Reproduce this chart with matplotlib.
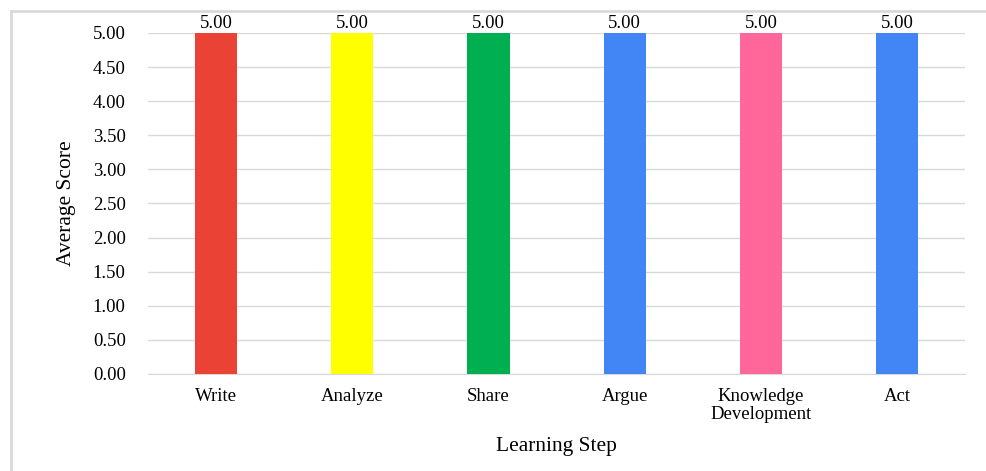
import matplotlib.pyplot as plt
from matplotlib.lines import Line2D

# data
steps = ['Write', 'Analyze', 'Share', 'Argue', 'Knowledge\nDevelopment', 'Act']
scores = [5.00, 5.00, 5.00, 5.00, 5.00, 5.00]
colors = ['#EA4335', '#FFFF00', '#00B050', '#4285F4', '#FF6699', '#4285F4']
yticks = [0.0, 0.5, 1.0, 1.5, 2.0, 2.5, 3.0, 3.5, 4.0, 4.5, 5.0]

plt.rcParams['font.family'] = ['Liberation Serif', 'DejaVu Serif']

fig = plt.figure(figsize=(9.86, 4.71), dpi=100)
ax = fig.add_axes([0.150, 0.206, 0.829, 0.724])

x = range(len(steps))
bars = ax.bar(x, scores, width=0.31, color=colors, zorder=3)
for b, v in zip(bars, scores):
    ax.text(b.get_x() + b.get_width() / 2, v + 0.02, '%.2f' % v,
            ha='center', va='bottom', fontsize=13.5, clip_on=False)

ax.set_xlim(-0.5, len(steps) - 0.5)
ax.set_ylim(0, 5)
ax.set_yticks(yticks)
ax.set_yticklabels(['%.2f' % t for t in yticks], fontsize=13.5)
ax.set_xticks(list(x))
ax.set_xticklabels(steps, fontsize=13.5, linespacing=1.1)
ax.tick_params(length=0)
ax.tick_params(axis='y', pad=16)
ax.tick_params(axis='x', pad=10)

ax.grid(axis='y', color='#d9d9d9', linewidth=1, zorder=0)
for s in ['top', 'right', 'left']:
    ax.spines[s].set_visible(False)
ax.spines['bottom'].set_color('#d9d9d9')

ax.set_ylabel('Average Score', fontsize=15.5, labelpad=12)
ax.set_xlabel('Learning Step', fontsize=15.5, labelpad=10)

# frame lines at left and top of figure
fig.add_artist(Line2D([0.011, 0.011], [0, 0.977], color='#d9d9d9', lw=2, transform=fig.transFigure))
fig.add_artist(Line2D([0.011, 1.0], [0.977, 0.977], color='#d9d9d9', lw=2, transform=fig.transFigure))

fig.savefig('out.png', dpi=100)
